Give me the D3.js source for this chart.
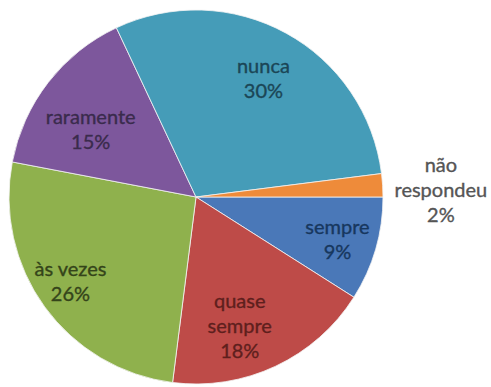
<!DOCTYPE html>
<html>
<head>
<meta charset="utf-8">
<script src="https://cdn.jsdelivr.net/npm/d3@7"></script>
<style>
  html, body { margin: 0; padding: 0; background: #fff; }
  svg { display: block; }
  text { font-family: Lato, "Open Sans", sans-serif; }
</style>
</head>
<body>
<svg id="chart" width="491" height="387"></svg>
<script>
// Answer categories, in drawing order (clockwise from 3 o'clock)
const categories = ["sempre", "quase sempre", "às vezes", "raramente", "nunca", "não respondeu"];
// Share of answers, percent
const shares = [9, 18, 26, 15, 30, 2];
// Label lines shown for each category
const labelLines = [
  ["sempre"],
  ["quase", "sempre"],
  ["às vezes"],
  ["raramente"],
  ["nunca"],
  ["não", "respondeu"]
];

// Slice fills and label colours
const fills = ["#4A78B8", "#BE4B48", "#8FB14D", "#7D579C", "#459CB8", "#EE8B3A"];
const inks  = ["#17375E", "#5E1F1D", "#34441A", "#3A2B4C", "#1B4656", "#555555"];
// Label placement: angle shift (deg) from slice middle, distance as fraction of radius
const labelPlacement = [
  [0.5, 0.79],
  [6.5, 0.73],
  [2.0, 0.81],
  [-5.0, 0.67],
  [0.8, 0.73],
  [2.0, 1.31]
];

const svg = d3.select("#chart");
const cx = 196, cy = 197, R = 187;
const g = svg.append("g").attr("transform", `translate(${cx},${cy})`);

const pie = d3.pie()
  .value(d => d)
  .sort(null)
  .startAngle(Math.PI / 2)
  .endAngle(Math.PI / 2 + 2 * Math.PI);

const arcs = pie(shares);
const arc = d3.arc().innerRadius(0).outerRadius(R);

g.selectAll("path.slice")
  .data(arcs)
  .join("path")
  .attr("class", "slice")
  .attr("d", arc)
  .attr("fill", (d, i) => fills[i])
  .attr("stroke", "#f4f4f4")
  .attr("stroke-width", 0.8)
  .attr("stroke-linejoin", "round");

const lineH = 25;
const labels = g.selectAll("text.lbl")
  .data(arcs)
  .join("text")
  .attr("class", "lbl")
  .attr("text-anchor", "middle")
  .attr("font-size", 20)
  .attr("fill", (d, i) => inks[i])
  .attr("stroke", (d, i) => inks[i])
  .attr("stroke-width", 0.35)
  .attr("transform", (d, i) => {
    const [shift, k] = labelPlacement[i];
    const a = (d.startAngle + d.endAngle) / 2 + shift * Math.PI / 180;
    const x = Math.sin(a) * R * k;
    const y = -Math.cos(a) * R * k;
    return `translate(${x},${y})`;
  });

labels.each(function(d, i) {
  const lines = labelLines[i].concat([d3.format("d")(shares[i]) + "%"]);
  const t = d3.select(this);
  const top = -(lines.length - 1) * lineH / 2;
  lines.forEach((ln, j) => {
    t.append("tspan")
      .attr("x", 0)
      .attr("y", top + j * lineH)
      .attr("dy", "0.35em")
      .text(ln);
  });
});
</script>
</body>
</html>
